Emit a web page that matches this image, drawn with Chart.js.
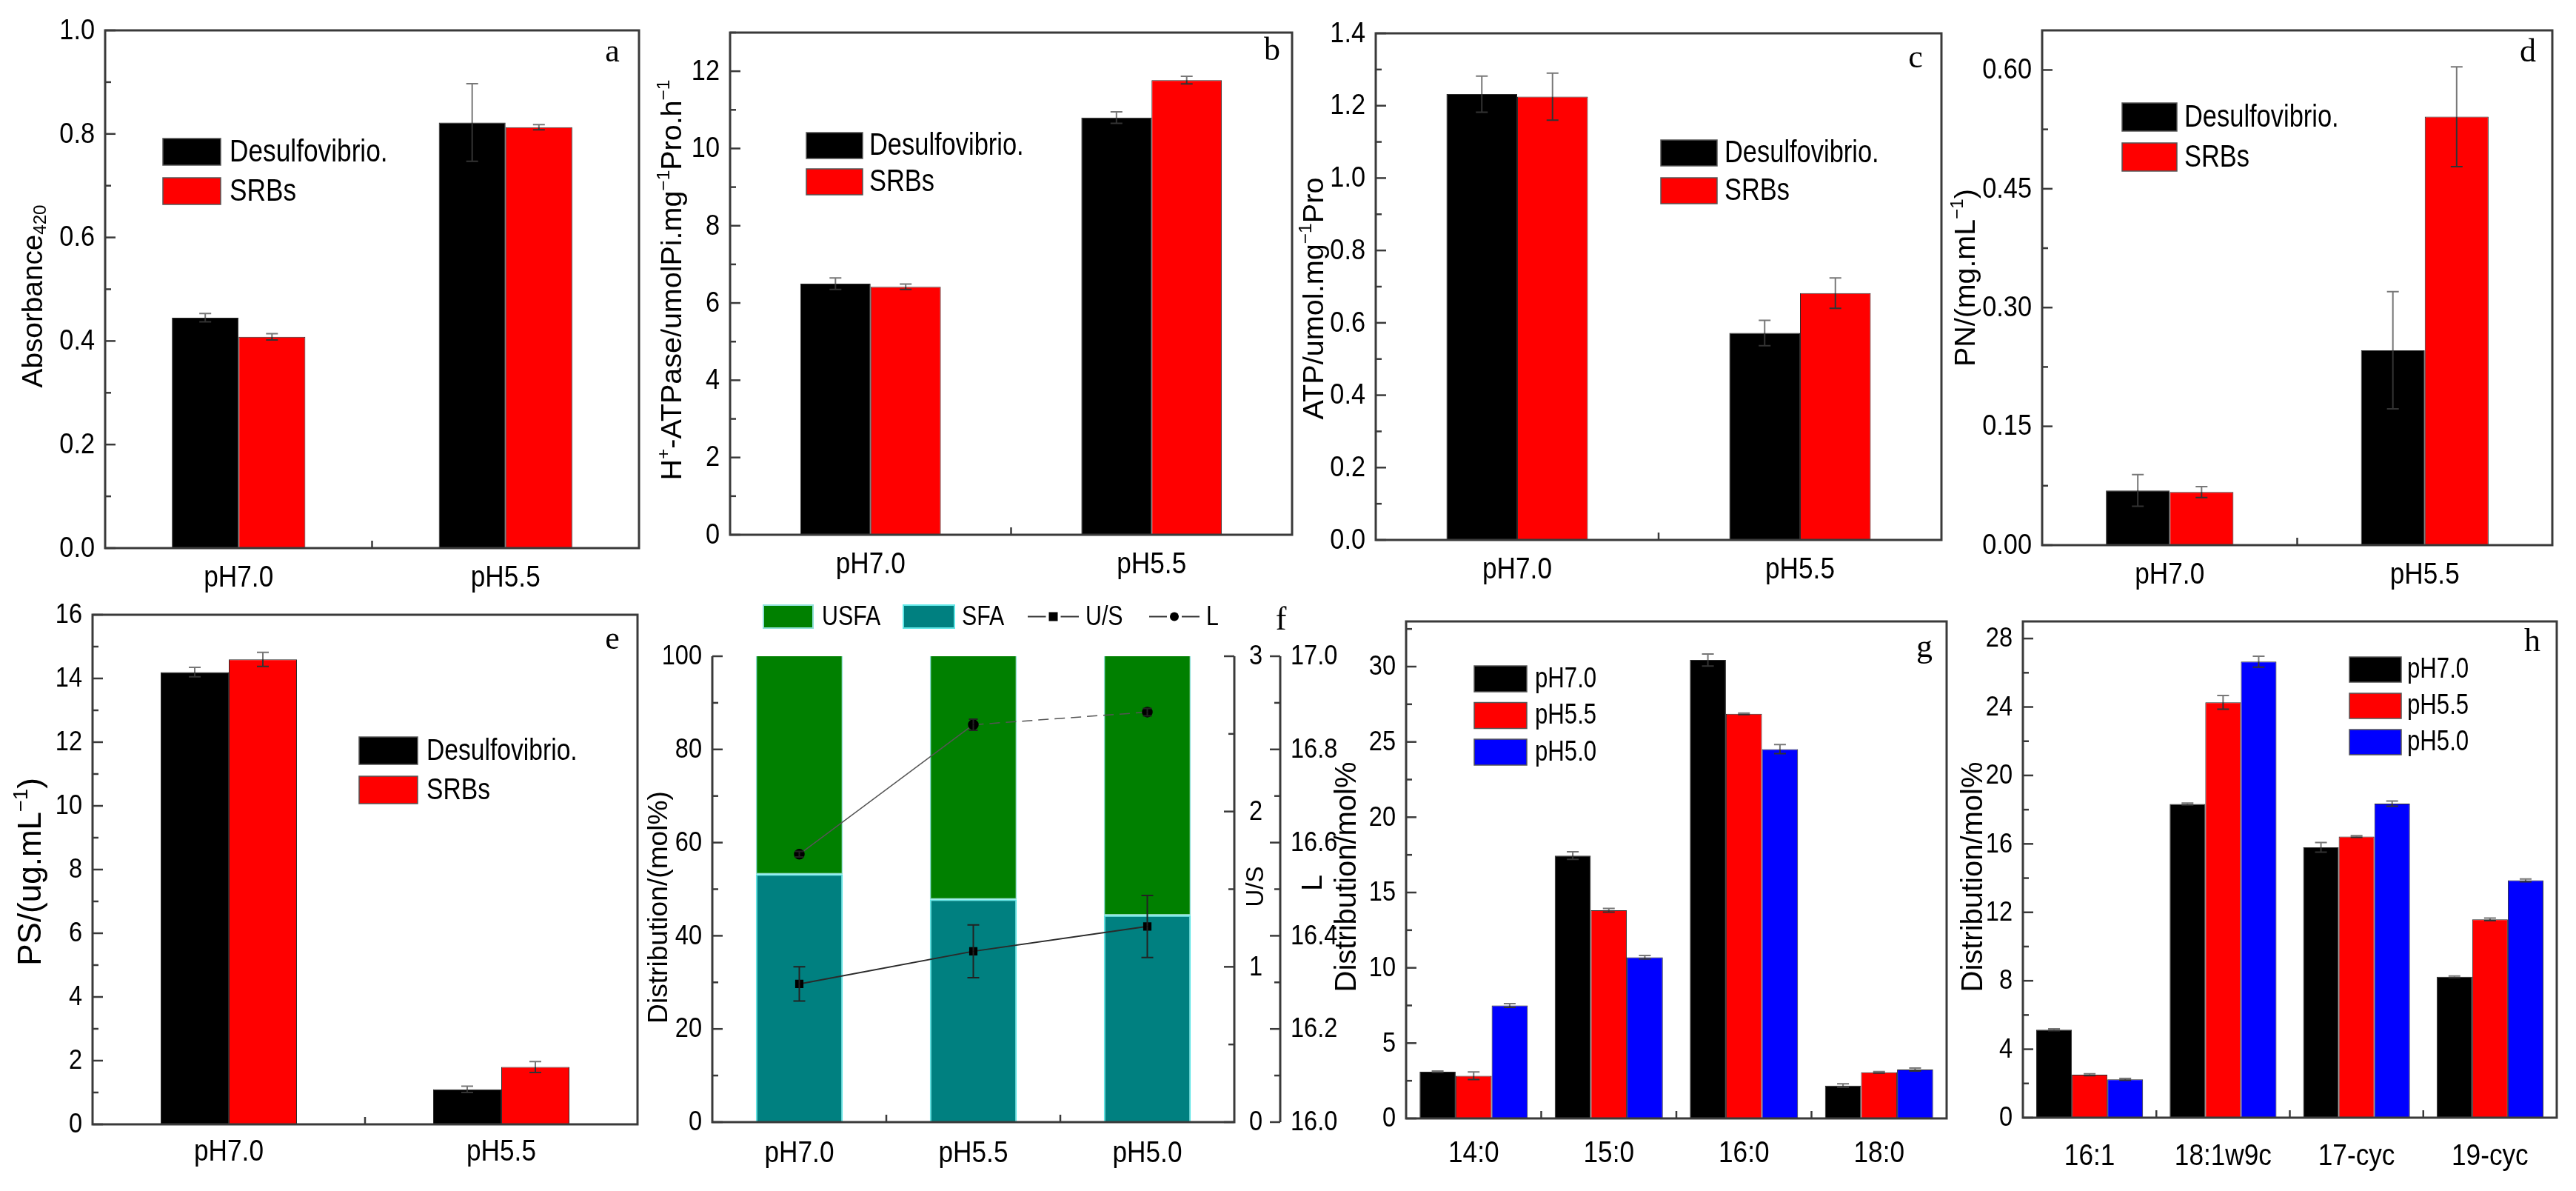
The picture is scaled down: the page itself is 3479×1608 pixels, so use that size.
<!DOCTYPE html>
<html>
  <head>
    <meta charset="UTF-8" />
    <title>SRB panels a-h</title>
    <script src="https://cdn.jsdelivr.net/npm/chart.js@4.4.1/dist/chart.umd.min.js"></script>
    <style>
      body { margin: 0; background: #fff; width: 3479px; height: 1608px; position: relative; overflow: hidden; }
      canvas { position: absolute; }
    </style>
  </head>
  <body>
    <script>
      // ---- data ----
      const phTwo = ['pH7.0', 'pH5.5'];
      const phThree = ['pH7.0', 'pH5.5', 'pH5.0'];

      // a  Absorbance420
      const absDesulfo = [0.445, 0.822];
      const absDesulfoErr = [0.008, 0.075];
      const absSrb = [0.408, 0.813];
      const absSrbErr = [0.006, 0.005];

      // b  H+-ATPase
      const atpaseDesulfo = [6.5, 10.8];
      const atpaseDesulfoErr = [0.15, 0.15];
      const atpaseSrb = [6.42, 11.77];
      const atpaseSrbErr = [0.07, 0.1];

      // c  ATP
      const atpDesulfo = [1.232, 0.572];
      const atpDesulfoErr = [0.05, 0.035];
      const atpSrb = [1.225, 0.682];
      const atpSrbErr = [0.065, 0.042];

      // d  PN
      const pnDesulfo = [0.069, 0.246];
      const pnDesulfoErr = [0.02, 0.074];
      const pnSrb = [0.067, 0.541];
      const pnSrbErr = [0.007, 0.063];

      // e  PS
      const psDesulfo = [14.2, 1.1];
      const psDesulfoErr = [0.15, 0.1];
      const psSrb = [14.6, 1.8];
      const psSrbErr = [0.22, 0.17];

      // f  fatty acid share, U/S ratio, chain length L
      const sfaShare = [53.2, 47.8, 44.4];
      const usfaShare = [46.8, 52.2, 55.6];
      const usRatio = [0.89, 1.1, 1.26];
      const usRatioErr = [0.11, 0.17, 0.2];
      const chainL = [16.575, 16.853, 16.88];
      const chainLErr = [0.006, 0.012, 0.008];

      // g  saturated fatty acids
      const satNames = ['14:0', '15:0', '16:0', '18:0'];
      const sat70 = [3.1, 17.45, 30.44, 2.18];
      const sat70Err = [0.05, 0.25, 0.4, 0.12];
      const sat55 = [2.83, 13.82, 26.86, 3.06];
      const sat55Err = [0.25, 0.12, 0.05, 0.05];
      const sat50 = [7.5, 10.7, 24.52, 3.25];
      const sat50Err = [0.12, 0.12, 0.3, 0.1];

      // h  unsaturated / cyclic fatty acids
      const unsatNames = ['16:1', '18:1w9c', '17-cyc', '19-cyc'];
      const uns70 = [5.14, 18.33, 15.8, 8.23];
      const uns70Err = [0.05, 0.05, 0.28, 0.05];
      const uns55 = [2.51, 24.27, 16.43, 11.59];
      const uns55Err = [0.05, 0.4, 0.05, 0.08];
      const uns50 = [2.24, 26.65, 18.35, 13.87];
      const uns50Err = [0.05, 0.32, 0.15, 0.08];

      // ---- fonts (squeeze regular sans where the figure uses a narrow face) ----
      const mctx = document.createElement('canvas').getContext('2d');
      function hasFont(name) {
        mctx.font = '40px monospace';
        const a = mctx.measureText('Desulfovibrio. 0123').width;
        mctx.font = `40px "${name}", monospace`;
        return Math.abs(a - mctx.measureText('Desulfovibrio. 0123').width) > 0.5;
      }
      const NARROW = hasFont('Liberation Sans Narrow');
      const FAM = NARROW ? '"Liberation Sans Narrow", sans-serif' : '"Liberation Sans", Arial, sans-serif';
      const TITLE_FAM = '"Liberation Sans", Arial, sans-serif';
      const K_TICK = NARROW ? 1 : 0.88;
      const K_LEG = NARROW ? 1 : 0.82;
      Chart.defaults.font.family = FAM;
      Chart.defaults.color = '#000';

      function txt(ctx, s, x, y, size, align, base, k) {
        ctx.save();
        ctx.translate(x, y);
        ctx.scale(k, 1);
        ctx.font = `${size}px ${FAM}`;
        ctx.textAlign = align; ctx.textBaseline = base; ctx.fillStyle = '#000';
        ctx.fillText(s, 0, 0);
        ctx.restore();
      }
      function richWidth(ctx, parts, size) {
        let w = 0;
        for (const [t, k] of parts) { ctx.font = `${k ? size * 0.62 : size}px ${TITLE_FAM}`; w += ctx.measureText(t).width; }
        return w;
      }
      function drawRich(ctx, parts, len, cx, cy) {
        const size = Math.min(44, 100 * len / richWidth(ctx, parts, 100));
        ctx.save();
        ctx.translate(cx, cy);
        ctx.rotate(-Math.PI / 2);
        let x = -richWidth(ctx, parts, size) / 2;
        ctx.textBaseline = 'middle'; ctx.textAlign = 'left'; ctx.fillStyle = '#000';
        for (const [t, k] of parts) {
          const s = k ? size * 0.62 : size;
          ctx.font = `${s}px ${TITLE_FAM}`;
          const dy = k === 'sup' ? -size * 0.3 : k === 'sub' ? size * 0.25 : 0;
          ctx.fillText(t, x, dy);
          x += ctx.measureText(t).width;
        }
        ctx.restore();
      }

      // ---- decoration plugin: frame, inward ticks, labels, error bars, titles, legend ----
      function makeDeco(P) {
        return {
          id: 'deco',
          afterDraw(chart) {
            const ctx = chart.ctx, A = chart.chartArea, S = chart.scales;
            const ox = P.box.l, oy = P.box.t;
            ctx.save();
            // error bars
            chart.data.datasets.forEach((ds, i) => {
              if (!ds.err) return;
              const meta = chart.getDatasetMeta(i);
              const ys = S[meta.yAxisID];
              ctx.lineWidth = 2;
              meta.data.forEach((el, j) => {
                const v = ds.data[j], e = ds.err[j], c = ds.capW || 8;
                const y1 = ys.getPixelForValue(v + e), y0 = ys.getPixelForValue(v), y2 = ys.getPixelForValue(v - e);
                ctx.strokeStyle = ds.errColor || '#777';
                ctx.beginPath();
                ctx.moveTo(el.x, y1); ctx.lineTo(el.x, y0);
                ctx.moveTo(el.x - c, y1); ctx.lineTo(el.x + c, y1);
                ctx.stroke();
                ctx.strokeStyle = ds.errColor || '#333';
                ctx.beginPath();
                ctx.moveTo(el.x, y0); ctx.lineTo(el.x, y2);
                ctx.moveTo(el.x - c, y2); ctx.lineTo(el.x + c, y2);
                ctx.stroke();
              });
            });
            // axes frame
            ctx.strokeStyle = '#3a3a3a'; ctx.lineWidth = 3;
            ctx.beginPath();
            if (P.open) {
              ctx.moveTo(A.left, A.top); ctx.lineTo(A.left, A.bottom); ctx.lineTo(A.right, A.bottom); ctx.lineTo(A.right, A.top);
              ctx.moveTo(S.y2.left, A.top); ctx.lineTo(S.y2.left, A.bottom);
            } else {
              ctx.rect(A.left, A.top, A.right - A.left, A.bottom - A.top);
            }
            ctx.stroke();
            // y ticks and their labels
            ctx.lineWidth = 2.5;
            for (const t of P.yTicks) {
              const sc = S[t.id];
              const x = t.at === 'right' ? A.right : t.at === 'y2' ? sc.left : A.left;
              const n = Math.floor((sc.max - sc.min) / t.minor + 1e-6);
              for (let i = 0; i <= n; i++) {
                const y = sc.getPixelForValue(sc.min + i * t.minor);
                const q = i * t.minor / t.major;
                const len = Math.abs(q - Math.round(q)) < 1e-6 ? 14 : 8;
                ctx.beginPath(); ctx.moveTo(x, y); ctx.lineTo(x + t.dir * len, y); ctx.stroke();
              }
              for (const tk of sc.ticks) {
                const y = sc.getPixelForValue(tk.value) + 1;
                if (t.at) txt(ctx, tk.value.toFixed(t.dec), x + t.pad, y, P.ySize, 'left', 'middle', K_TICK);
                else txt(ctx, tk.value.toFixed(t.dec), x - 14, y, P.ySize, 'right', 'middle', K_TICK);
              }
            }
            // x ticks between categories, category labels
            const xs = S.x, nx = xs.ticks.length;
            for (let i = 1; i < nx; i++) {
              const x = (xs.getPixelForTick(i - 1) + xs.getPixelForTick(i)) / 2;
              ctx.beginPath(); ctx.moveTo(x, A.bottom); ctx.lineTo(x, A.bottom - 10); ctx.stroke();
            }
            xs.ticks.forEach((tk, i) => {
              txt(ctx, xs.getLabelForValue(tk.value), xs.getPixelForTick(i), A.bottom + P.xBase, 40, 'center', 'alphabetic', K_TICK);
            });
            // axis titles
            for (const t of P.titles) drawRich(ctx, t.parts, t.len, t.x - ox, t.y - oy);
            // panel letter
            ctx.fillStyle = '#000';
            ctx.font = '44px "Liberation Serif", "DejaVu Serif", serif';
            ctx.textAlign = 'center'; ctx.textBaseline = 'middle';
            ctx.fillText(P.letter.t, P.letter.x - ox, P.letter.y - oy);
            // legend
            const L = P.legend;
            if (L && !L.items) {
              chart.data.datasets.forEach((ds, i) => {
                const y = L.y + i * L.dy - oy;
                ctx.fillStyle = ds.backgroundColor;
                ctx.fillRect(L.x - ox, y, L.w, L.h);
                ctx.strokeStyle = '#555'; ctx.lineWidth = 1.5;
                ctx.strokeRect(L.x - ox, y, L.w, L.h);
                txt(ctx, ds.label, L.tx - ox, y + L.h / 2 + 1, L.fs, 'left', 'middle', K_LEG);
              });
            } else if (L) {
              const cy = L.y + L.h / 2 - oy;
              for (const it of L.items) {
                const ds = chart.data.datasets.find(d => d.label === it.label);
                if (it.kind === 'box') {
                  ctx.fillStyle = ds.backgroundColor;
                  ctx.fillRect(it.x - ox, L.y - oy, it.w, L.h);
                  ctx.strokeStyle = ds.borderColor; ctx.lineWidth = 2;
                  ctx.strokeRect(it.x - ox, L.y - oy, it.w, L.h);
                } else {
                  const x0 = it.x - ox, mx = x0 + it.w / 2;
                  ctx.strokeStyle = '#333'; ctx.lineWidth = 2;
                  ctx.beginPath();
                  ctx.moveTo(x0, cy); ctx.lineTo(mx - 10, cy);
                  ctx.moveTo(mx + 10, cy); ctx.lineTo(x0 + it.w, cy);
                  ctx.stroke();
                  ctx.fillStyle = '#000';
                  if (ds.pointStyle === 'rect') ctx.fillRect(mx - 6, cy - 6, 12, 12);
                  else { ctx.beginPath(); ctx.arc(mx, cy, 6, 0, Math.PI * 2); ctx.fill(); }
                }
                txt(ctx, it.label, it.tx - ox, cy + 1, L.fs, 'left', 'middle', K_LEG);
              }
            }
            ctx.restore();
          }
        };
      }

      function noGrid() {
        return { grid: { display: false, drawTicks: false }, border: { display: false } };
      }

      function makePanel(P, datasets, labels, yOpts, extraScales, catPct) {
        const w = P.box.r - P.box.l, h = P.box.b - P.box.t;
        const cv = document.createElement('canvas');
        cv.width = w; cv.height = h;
        cv.style.left = P.box.l + 'px'; cv.style.top = P.box.t + 'px';
        cv.style.width = w + 'px'; cv.style.height = h + 'px';
        document.body.appendChild(cv);
        const rightW = P.rightW || 0;
        const scales = {
          x: Object.assign(noGrid(), {
            type: 'category', offset: true, stacked: !!P.stacked,
            ticks: { display: false, autoSkip: false },
            afterFit: s => { s.height = P.box.b - P.plot.b; }
          }),
          y: Object.assign(noGrid(), {
            min: yOpts.min, max: yOpts.max, stacked: !!P.stacked,
            ticks: { display: false, stepSize: yOpts.step, includeBounds: false },
            afterFit: s => { s.width = P.plot.l - P.box.l; }
          })
        };
        Object.assign(scales, extraScales || {});
        new Chart(cv, {
          type: 'bar',
          data: { labels, datasets },
          options: {
            responsive: false, animation: false,
            layout: { padding: { left: 0, top: P.plot.t - P.box.t, right: P.box.r - P.plot.r - rightW, bottom: 0 } },
            datasets: { bar: { categoryPercentage: catPct, barPercentage: 1 } },
            plugins: { legend: { display: false }, tooltip: { enabled: false } },
            scales
          },
          plugins: [makeDeco(P)]
        });
      }

      function bars(label, data, err, color) {
        return { label, data, err, backgroundColor: color, borderColor: '#2a2a2a', borderWidth: 1 };
      }
      const BLACK = '#000000', RED = '#ff0000', BLUE = '#0000ff';
      const SUP = '\u22121';

      // a
      makePanel({
        box: { l: 0, t: 0, r: 880, b: 800 }, plot: { l: 142, t: 41, r: 863, b: 740 }, xBase: 52, ySize: 39,
        yTicks: [{ id: 'y', major: 0.2, minor: 0.1, dir: 1, dec: 1 }],
        titles: [{ parts: [['Absorbance'], ['420', 'sub']], len: 247, x: 46, y: 400 }],
        letter: { t: 'a', x: 827, y: 71 },
        legend: { x: 220, y: 187, w: 78, h: 36, dy: 53, tx: 310, fs: 43 }
      }, [bars('Desulfovibrio.', absDesulfo, absDesulfoErr, BLACK), bars('SRBs', absSrb, absSrbErr, RED)],
        phTwo, { min: 0, max: 1.0, step: 0.2 }, null, 0.5);

      // b
      makePanel({
        box: { l: 870, t: 0, r: 1760, b: 800 }, plot: { l: 986, t: 44, r: 1745, b: 722 }, xBase: 52, ySize: 39,
        yTicks: [{ id: 'y', major: 2, minor: 1, dir: 1, dec: 0 }],
        titles: [{ parts: [['H'], ['+', 'sup'], ['-ATPase/umolPi.mg'], [SUP, 'sup'], ['Pro.h'], [SUP, 'sup']], len: 541, x: 909, y: 378 }],
        letter: { t: 'b', x: 1718, y: 69 },
        legend: { x: 1089, y: 179, w: 76, h: 35, dy: 49, tx: 1174, fs: 42 }
      }, [bars('Desulfovibrio.', atpaseDesulfo, atpaseDesulfoErr, BLACK), bars('SRBs', atpaseSrb, atpaseSrbErr, RED)],
        phTwo, { min: 0, max: 13, step: 2 }, null, 0.5);

      // c
      makePanel({
        box: { l: 1750, t: 0, r: 2640, b: 800 }, plot: { l: 1858, t: 45, r: 2622, b: 729 }, xBase: 52, ySize: 39,
        yTicks: [{ id: 'y', major: 0.2, minor: 0.1, dir: 1, dec: 1 }],
        titles: [{ parts: [['ATP/umol.mg'], [SUP, 'sup'], ['Pro']], len: 327, x: 1776, y: 403 }],
        letter: { t: 'c', x: 2587, y: 79 },
        legend: { x: 2243, y: 189, w: 76, h: 35, dy: 51, tx: 2329, fs: 42 }
      }, [bars('Desulfovibrio.', atpDesulfo, atpDesulfoErr, BLACK), bars('SRBs', atpSrb, atpSrbErr, RED)],
        phTwo, { min: 0, max: 1.4, step: 0.2 }, null, 0.5);

      // d
      makePanel({
        box: { l: 2630, t: 0, r: 3479, b: 800 }, plot: { l: 2758, t: 41, r: 3447, b: 736 }, xBase: 52, ySize: 39,
        yTicks: [{ id: 'y', major: 0.15, minor: 0.075, dir: 1, dec: 2 }],
        titles: [{ parts: [['PN/(mg.mL'], [SUP, 'sup'], [')']], len: 240, x: 2656, y: 375 }],
        letter: { t: 'd', x: 3414, y: 71 },
        legend: { x: 2866, y: 139, w: 74, h: 38, dy: 54, tx: 2950, fs: 42 }
      }, [bars('Desulfovibrio.', pnDesulfo, pnDesulfoErr, BLACK), bars('SRBs', pnSrb, pnSrbErr, RED)],
        phTwo, { min: 0, max: 0.65, step: 0.15 }, null, 0.5);

      // e
      makePanel({
        box: { l: 0, t: 790, r: 880, b: 1608 }, plot: { l: 125, t: 830, r: 861, b: 1518 }, xBase: 49, ySize: 37,
        yTicks: [{ id: 'y', major: 2, minor: 1, dir: 1, dec: 0 }],
        titles: [{ parts: [['PS/(ug.mL'], [SUP, 'sup'], [')']], len: 383, x: 43, y: 1177 }],
        letter: { t: 'e', x: 827, y: 864 },
        legend: { x: 485, y: 995, w: 79, h: 37, dy: 53, tx: 576, fs: 41 }
      }, [bars('Desulfovibrio.', psDesulfo, psDesulfoErr, BLACK), bars('SRBs', psSrb, psSrbErr, RED)],
        phTwo, { min: 0, max: 16, step: 2 }, null, 0.5);

      // f
      makePanel({
        box: { l: 870, t: 790, r: 1815, b: 1608 }, plot: { l: 962, t: 886, r: 1667, b: 1515 }, xBase: 54, ySize: 37,
        stacked: true, open: true, rightW: 148,
        yTicks: [
          { id: 'y', major: 20, minor: 10, dir: 1, dec: 0 },
          { id: 'y1', major: 1, minor: 0.5, dir: -1, at: 'right', pad: 20, dec: 0 },
          { id: 'y2', major: 0.2, minor: 0.1, dir: -1, at: 'y2', pad: 14, dec: 1 }
        ],
        titles: [
          { parts: [['Distribution/(mol%)']], len: 314, x: 891, y: 1225 },
          { parts: [['U/S']], len: 55, x: 1697, y: 1197 },
          { parts: [['L']], len: 22, x: 1774, y: 1192 }
        ],
        letter: { t: 'f', x: 1730, y: 838 },
        legend: {
          y: 817, h: 31, fs: 37, items: [
            { kind: 'box', label: 'USFA', x: 1031, w: 67, tx: 1110 },
            { kind: 'box', label: 'SFA', x: 1220, w: 69, tx: 1299 },
            { kind: 'line', label: 'U/S', x: 1388, w: 69, tx: 1466 },
            { kind: 'line', label: 'L', x: 1552, w: 68, tx: 1629 }
          ]
        }
      }, [
        { type: 'bar', label: 'SFA', data: sfaShare, backgroundColor: '#008080', borderColor: '#5fe6e6', borderWidth: 2, borderSkipped: 'start', order: 2 },
        { type: 'bar', label: 'USFA', data: usfaShare, backgroundColor: '#008000', borderColor: '#8fe0d8', borderWidth: 1.5, borderSkipped: 'end', order: 2 },
        { type: 'line', label: 'U/S', data: usRatio, err: usRatioErr, yAxisID: 'y1', borderColor: '#2a2a2a', borderWidth: 2,
          pointStyle: 'rect', pointRadius: 6.5, pointBackgroundColor: '#000', pointBorderColor: '#000', order: 0, errColor: '#222', capW: 8 },
        { type: 'line', label: 'L', data: chainL, err: chainLErr, yAxisID: 'y2', borderColor: '#555', borderWidth: 1.5,
          segment: { borderDash: c => (c.p0DataIndex === 1 ? [14, 8] : undefined) },
          pointStyle: 'circle', pointRadius: 6.5, pointBackgroundColor: '#000', pointBorderColor: '#000', order: 0, errColor: '#222', capW: 6 }
      ], phThree, { min: 0, max: 100, step: 20 }, {
        y1: Object.assign(noGrid(), {
          position: 'right', min: 0, max: 3, weight: 0,
          ticks: { display: false, stepSize: 1, includeBounds: false },
          afterFit: s => { s.width = 62; }
        }),
        y2: Object.assign(noGrid(), {
          position: 'right', min: 16, max: 17, weight: 1,
          ticks: { display: false, stepSize: 0.2, includeBounds: false },
          afterFit: s => { s.width = 86; }
        })
      }, 0.5);

      // g
      makePanel({
        box: { l: 1795, t: 790, r: 2640, b: 1608 }, plot: { l: 1899, t: 839, r: 2629, b: 1510 }, xBase: 59, ySize: 37,
        yTicks: [{ id: 'y', major: 5, minor: 2.5, dir: 1, dec: 0 }],
        titles: [{ parts: [['Distribution/mol%']], len: 311, x: 1820, y: 1184 }],
        letter: { t: 'g', x: 2599, y: 875 },
        legend: { x: 1991, y: 899, w: 71, h: 35, dy: 49.5, tx: 2073, fs: 38 }
      }, [bars('pH7.0', sat70, sat70Err, BLACK), bars('pH5.5', sat55, sat55Err, RED), bars('pH5.0', sat50, sat50Err, BLUE)],
        satNames, { min: 0, max: 33, step: 5 }, null, 0.8);

      // h
      makePanel({
        box: { l: 2635, t: 790, r: 3479, b: 1608 }, plot: { l: 2732, t: 839, r: 3453, b: 1509 }, xBase: 64, ySize: 37,
        yTicks: [{ id: 'y', major: 4, minor: 2, dir: 1, dec: 0 }],
        titles: [{ parts: [['Distribution/mol%']], len: 311, x: 2666, y: 1184 }],
        letter: { t: 'h', x: 3420, y: 867 },
        legend: { x: 3173, y: 887, w: 70, h: 34, dy: 49, tx: 3251, fs: 38 }
      }, [bars('pH7.0', uns70, uns70Err, BLACK), bars('pH5.5', uns55, uns55Err, RED), bars('pH5.0', uns50, uns50Err, BLUE)],
        unsatNames, { min: 0, max: 29, step: 4 }, null, 0.8);
    </script>
  </body>
</html>
